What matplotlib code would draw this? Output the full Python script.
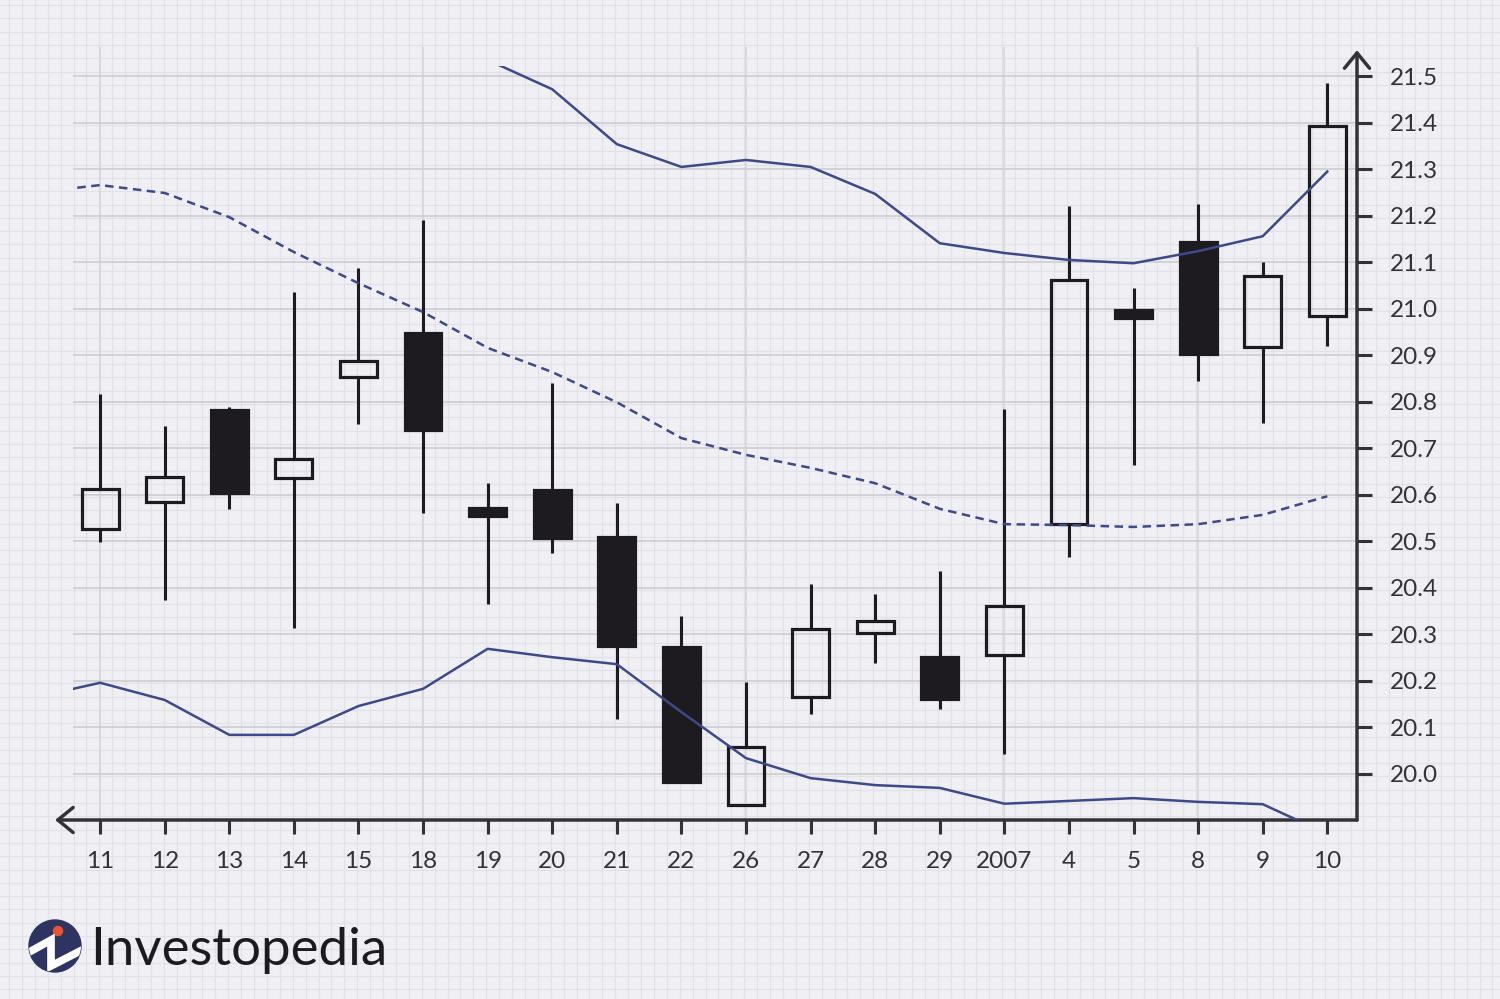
import numpy as np
import matplotlib
matplotlib.use('Agg')
import matplotlib.pyplot as plt
from matplotlib.patches import Circle

# ---------------------------------- data ----------------------------------#
days = ['11', '12', '13', '14', '15', '18', '19', '20', '21', '22',
        '26', '27', '28', '29', '2007', '4', '5', '8', '9', '10']
opens = [20.527, 20.585, 20.782, 20.636, 20.853, 20.948, 20.572, 20.610, 20.509, 20.273,
         19.933, 20.165, 20.303, 20.251, 20.256, 20.537, 20.997, 21.143, 20.918, 20.984]
closes = [20.612, 20.638, 20.604, 20.677, 20.888, 20.739, 20.554, 20.507, 20.275, 19.983,
          20.058, 20.312, 20.329, 20.161, 20.361, 21.062, 20.980, 20.903, 21.070, 21.393]
highs = [20.817, 20.748, 20.789, 21.036, 21.087, 21.191, 20.625, 20.840, 20.582, 20.340,
         20.198, 20.408, 20.387, 20.436, 20.784, 21.221, 21.045, 21.225, 21.100, 21.485]
lows = [20.499, 20.374, 20.570, 20.314, 20.752, 20.561, 20.365, 20.475, 20.118, 19.983,
        19.933, 20.129, 20.239, 20.140, 20.043, 20.466, 20.664, 20.845, 20.754, 20.920]

# bands start one session before the first candle
upper_band = [np.nan, np.nan, np.nan, np.nan, np.nan, np.nan, np.nan, 21.535, 21.472, 21.354,
              21.305, 21.320, 21.305, 21.247, 21.141, 21.120, 21.105, 21.098, 21.124, 21.156, 21.295]
middle_band = [21.250, 21.266, 21.249, 21.197, 21.122, 21.055, 20.993, 20.916, 20.864, 20.799,
               20.722, 20.686, 20.658, 20.625, 20.570, 20.537, 20.535, 20.531, 20.537, 20.557, 20.597]
lower_band = [20.165, 20.196, 20.159, 20.084, 20.084, 20.146, 20.183, 20.269, 20.251, 20.236,
              20.133, 20.034, 19.991, 19.976, 19.970, 19.936, 19.942, 19.948, 19.940, 19.935, 19.871]

y_ticks = [20.0, 20.1, 20.2, 20.3, 20.4, 20.5, 20.6, 20.7, 20.8, 20.9,
           21.0, 21.1, 21.2, 21.3, 21.4, 21.5]
week_starts = ['11', '18', '26', '2007', '8']

# ---------------------------------- style ---------------------------------#
plt.rcParams['font.family'] = ['Lato', 'DejaVu Sans']
W, H = 1500, 999
bg_color = '#f0eff3'
axis_color = '#333237'
band_color = '#3d4a8a'
candle_color = '#1d1b20'

fig = plt.figure(figsize=(15, 9.99), dpi=100)
fig.patch.set_facecolor(bg_color)

# graph paper background
bg = fig.add_axes([0, 0, 1, 1], zorder=-10)
bg.set_xlim(0, W)
bg.set_ylim(H, 0)
for gx in np.arange(9, W, 12.9):
    bg.axvline(gx, color='#e2e1e7', lw=0.9)
for gy in np.arange(5, H, 13.3):
    bg.axhline(gy, color='#e2e1e7', lw=0.9)
bg.axis('off')

# main chart
ax = fig.add_axes([73 / W, 1 - 820 / H, (1357 - 73) / W, (820 - 66) / H])
ax.patch.set_alpha(0)
xmin, xmax = -0.42, 19.46
ymin, ymax = 19.901, 21.522
ax.set_xlim(xmin, xmax)
ax.set_ylim(ymin, ymax)

x = np.arange(len(days))
band_x = np.arange(-1, len(days))

o = np.array(opens)
c = np.array(closes)
body_lo = np.minimum(o, c)
body_hi = np.maximum(o, c)
face = ['none' if cc >= oo else candle_color for oo, cc in zip(o, c)]

# wicks (split so they do not cross hollow bodies)
ax.vlines(x, body_hi, highs, color=candle_color, lw=2.2, zorder=3)
ax.vlines(x, lows, body_lo, color=candle_color, lw=2.2, zorder=3)
ax.bar(x, body_hi - body_lo, bottom=body_lo, width=0.57, color=face,
       edgecolor=candle_color, linewidth=2.3, zorder=4)

# bollinger bands
ax.plot(band_x, upper_band, color=band_color, lw=1.8, zorder=5)
ax.plot(band_x, middle_band, color=band_color, lw=1.8, linestyle=(0, (3.4, 2.2)), zorder=5)
ax.plot(band_x, lower_band, color=band_color, lw=1.8, zorder=5)

# grid
ax.yaxis.grid(True, color='#d0cfd5', lw=1.3)
ax.set_axisbelow(True)
week_x = [days.index(d) for d in week_starts]
ax.vlines(week_x, ymin, 21.5625, color='#d6d5db', lw=1.2, clip_on=False, zorder=0.5)

# axes, ticks, labels
for s in ax.spines.values():
    s.set_visible(False)
ax.set_xticks(x, days)
ax.yaxis.tick_right()
ax.set_yticks(y_ticks, [f'{t:.1f}' for t in y_ticks])
ax.tick_params(axis='x', length=10, width=2.2, color=axis_color, pad=12,
               labelsize=17.5, labelcolor=axis_color)
ax.tick_params(axis='y', length=11, width=2.2, color=axis_color, pad=13,
               labelsize=17.5, labelcolor=axis_color)

arrow_style = '->,head_length=0.55,head_width=0.45'
ax.annotate('', xy=(xmax, 21.556), xytext=(xmax, ymin),
            arrowprops=dict(arrowstyle=arrow_style, color=axis_color, lw=2.5,
                            mutation_scale=20, shrinkA=0, shrinkB=0),
            annotation_clip=False)
ax.annotate('', xy=(-0.697, ymin), xytext=(xmax, ymin),
            arrowprops=dict(arrowstyle=arrow_style, color=axis_color, lw=2.5,
                            mutation_scale=20, shrinkA=0, shrinkB=0),
            annotation_clip=False)

# logo
lax = fig.add_axes([20 / W, 1 - 980 / H, 70 / W, 70 / H])
lax.set_xlim(20, 90)
lax.set_ylim(980, 910)
disc = Circle((55, 946), 26, color='#2d3461')
lax.add_patch(disc)
zig, = lax.plot([24, 51, 51, 86], [955, 940, 966, 948], color='white', lw=5.5,
                solid_joinstyle='miter')
zig.set_clip_path(disc)
lax.add_patch(Circle((58, 931), 4.5, color='#e8552f'))
lax.axis('off')
fig.text(90 / W, 1 - 965 / H, 'Investopedia', fontsize=38, color=candle_color,
         va='baseline', ha='left')

fig.savefig('out.png', dpi=100, facecolor=fig.get_facecolor())
